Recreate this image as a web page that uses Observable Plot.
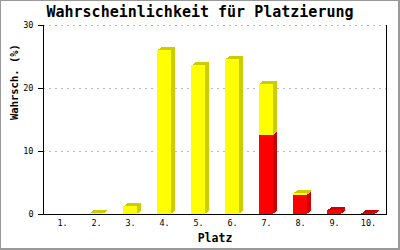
<!DOCTYPE html>
<html>
<head>
<meta charset="utf-8">
<script src="https://cdn.jsdelivr.net/npm/d3@7"></script>
<script src="https://cdn.jsdelivr.net/npm/@observablehq/plot@0.6"></script>
<style>
  html, body { margin: 0; padding: 0; background: #fff; }
  #wrap { position: relative; width: 400px; height: 250px; overflow: hidden; background: #fff; }
  #wrap svg { position: absolute; left: 0; top: 0; }
  #title { position: absolute; left: 0; top: 5px; width: 400px; text-align: center;
           font: bold 15px/15px "DejaVu Sans Mono", monospace; color: #000; white-space: nowrap; }
  #border { position: absolute; left: 0; top: 0; width: 400px; height: 250px; box-sizing: border-box;
            border-left: 1px solid #999; border-top: 1px solid #999;
            border-right: 2px solid #999; border-bottom: 2px solid #999; pointer-events: none; }
</style>
</head>
<body>
<div id="wrap">
  <div id="title">Wahrscheinlichkeit für Platzierung</div>
  <div id="border"></div>
</div>
<script>
const titleText = "Wahrscheinlichkeit für Platzierung";
const yLabel = "Wahrsch. (%)";
const xLabel = "Platz";
const places = ["1.", "2.", "3.", "4.", "5.", "6.", "7.", "8.", "9.", "10."];
const redValues    = [0, 0,   0,   0,    0,    0,    12.5, 3.0, 0.6, 0.1];
const yellowValues = [0, 0.1, 1.2, 26.0, 23.6, 24.6, 8.2,  0.3, 0,   0];
const yTicks = [0, 10, 20, 30];
const gridTicks = [10, 20, 30];

const colors = {red: {front: "#ff0000", dark: "#cc0000"}, yellow: {front: "#ffff00", dark: "#cccc00"}};

const segs = [];
places.forEach((p, i) => {
  const r = redValues[i], y = yellowValues[i];
  if (r > 0) segs.push({place: p, lo: 0, hi: r, kind: "red"});
  if (y > 0) segs.push({place: p, lo: r, hi: r + y, kind: "yellow"});
});

const inset = 9.6;
const depthSteps = [4, 3, 2, 1];

const marks = [
  Plot.gridY(gridTicks, {stroke: "#bbbbbb", strokeOpacity: 1, strokeDasharray: "2,4", shapeRendering: "crispEdges"})
];
for (const k of depthSteps) {
  marks.push(Plot.barY(segs, {
    x: "place", y1: "lo", y2: "hi",
    fill: d => colors[d.kind].dark,
    insetLeft: inset, insetRight: inset,
    dx: k, dy: -0.75 * k,
    shapeRendering: "crispEdges"
  }));
}
marks.push(Plot.barY(segs, {
  x: "place", y1: "lo", y2: "hi",
  fill: d => colors[d.kind].front,
  insetLeft: inset, insetRight: inset,
  shapeRendering: "crispEdges"
}));
marks.push(
  Plot.frame({anchor: "left", stroke: "#000", shapeRendering: "crispEdges"}),
  Plot.frame({anchor: "right", stroke: "#000", shapeRendering: "crispEdges"}),
  Plot.frame({anchor: "bottom", stroke: "#000", shapeRendering: "crispEdges"}),
  Plot.axisY({ticks: yTicks, tickSize: 5, tickPadding: 5, fontSize: 8.5, label: null, shapeRendering: "crispEdges"}),
  Plot.axisX({tickSize: 0, tickPadding: 5, fontSize: 8.5, label: null}),
  Plot.text([yLabel], {frameAnchor: "left", rotate: -90, dx: -29, fontSize: 10.5, fontWeight: "bold", text: d => d}),
  Plot.text([xLabel], {frameAnchor: "bottom", dy: 27, fontSize: 11.5, fontWeight: "bold", text: d => d})
);

const chart = Plot.plot({
  width: 400,
  height: 250,
  marginLeft: 43,
  marginRight: 14,
  marginTop: 25,
  marginBottom: 36,
  style: {fontFamily: "'DejaVu Sans Mono', monospace", color: "#000", background: "transparent", overflow: "visible"},
  x: {type: "band", domain: places, padding: 0},
  y: {domain: [0, 30]},
  color: {type: "identity"},
  marks
});
document.getElementById("wrap").insertBefore(chart, document.getElementById("title"));
document.getElementById("title").textContent = titleText;
</script>
</body>
</html>
